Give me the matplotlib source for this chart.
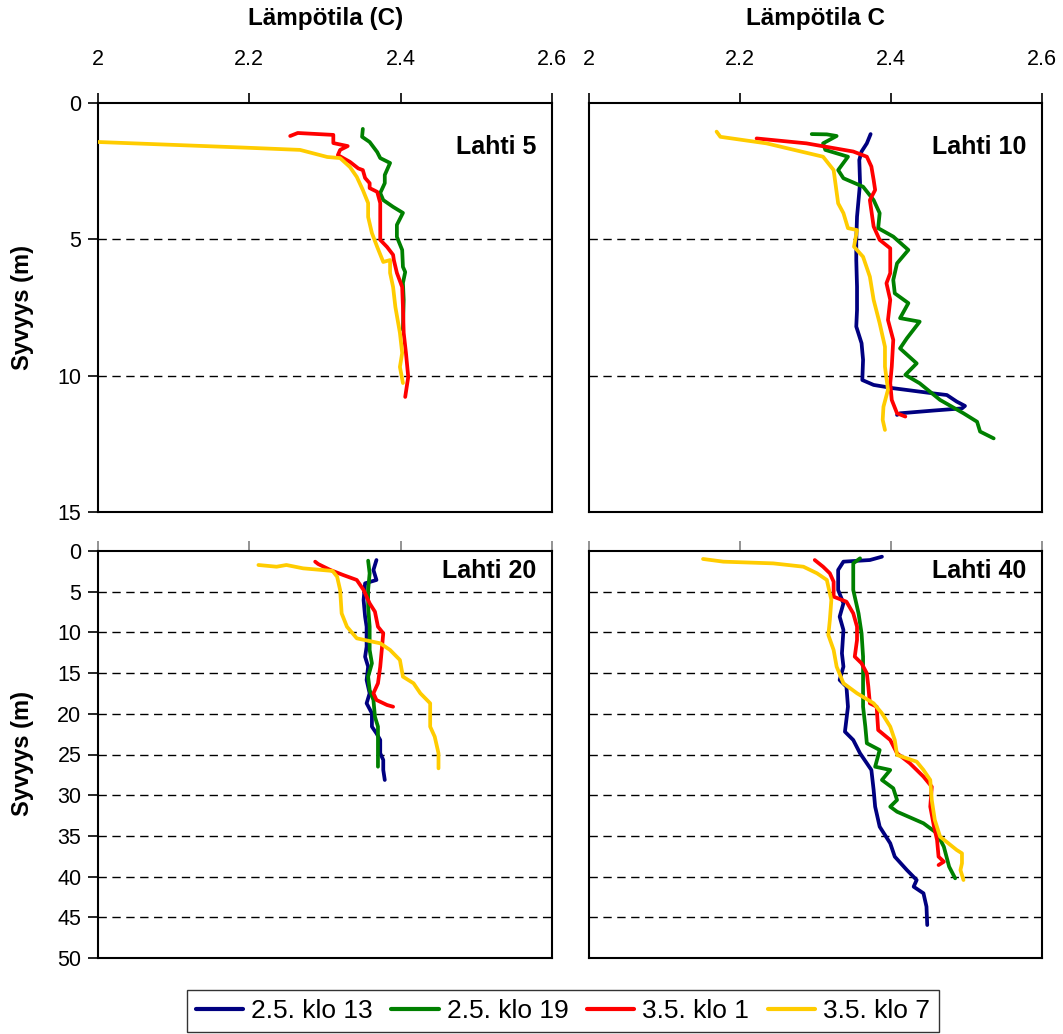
import matplotlib
matplotlib.use('Agg')
import matplotlib.pyplot as plt

# ---- data: temperature (C) vs depth (m) for each bay and measurement time ----
series_names = ['2.5. klo 13', '2.5. klo 19', '3.5. klo 1', '3.5. klo 7']
series_colors = ['#000080', '#008000', '#FF0000', '#FFCC00']

# Lahti 5 (no 2.5. klo 13 profile)
l5_green_t = [2.350, 2.349, 2.359, 2.369, 2.373, 2.386, 2.379, 2.379, 2.373, 2.377, 2.390, 2.403, 2.395,
              2.395, 2.402, 2.403, 2.406, 2.403, 2.404, 2.403]
l5_green_d = [0.95, 1.24, 1.43, 1.80, 2.02, 2.20, 2.64, 2.94, 3.30, 3.56, 3.81, 4.03, 4.47,
              4.91, 5.39, 6.01, 6.20, 6.60, 7.22, 8.32]
l5_red_t = [2.254, 2.264, 2.311, 2.311, 2.330, 2.320, 2.317, 2.333, 2.344, 2.350, 2.353, 2.359, 2.359, 2.369,
            2.373, 2.373, 2.382, 2.390, 2.391, 2.395, 2.402, 2.403, 2.404, 2.407, 2.410, 2.408, 2.406]
l5_red_d = [1.21, 1.10, 1.17, 1.47, 1.58, 1.72, 1.91, 2.16, 2.40, 2.46, 2.75, 2.94, 3.12, 3.26,
            3.67, 5.02, 5.28, 5.57, 5.76, 6.23, 6.75, 7.48, 8.43, 9.17, 10.05, 10.41, 10.78]
l5_yellow_t = [2.000, 2.188, 2.267, 2.303, 2.320, 2.333, 2.342, 2.350, 2.357, 2.357, 2.362, 2.369, 2.377,
               2.386, 2.386, 2.390, 2.393, 2.399, 2.402, 2.399, 2.403]
l5_yellow_d = [1.43, 1.63, 1.72, 1.98, 2.02, 2.35, 2.71, 3.19, 3.67, 4.18, 4.77, 5.28, 5.83,
               5.76, 6.23, 6.75, 7.48, 8.43, 9.17, 9.68, 10.27]

# Lahti 10
l10_blue_t = [2.373, 2.368, 2.361, 2.358, 2.359, 2.357, 2.355, 2.354, 2.354, 2.355, 2.355, 2.354, 2.361,
              2.363, 2.362, 2.377, 2.403, 2.456, 2.474, 2.487, 2.498, 2.494, 2.456, 2.412, 2.408]
l10_blue_d = [1.14, 1.48, 1.78, 2.09, 2.94, 3.56, 4.17, 5.02, 5.76, 6.74, 7.59, 8.20, 8.81,
              9.42, 10.16, 10.34, 10.46, 10.65, 10.71, 10.95, 11.11, 11.20, 11.28, 11.38, 11.44]
l10_green_t = [2.295, 2.315, 2.328, 2.310, 2.313, 2.343, 2.330, 2.337, 2.363, 2.377, 2.385, 2.383, 2.403,
               2.423, 2.408, 2.403, 2.405, 2.423, 2.412, 2.438, 2.421, 2.412, 2.434, 2.419, 2.438, 2.465,
               2.496, 2.514, 2.518, 2.536]
l10_green_d = [1.14, 1.15, 1.21, 1.48, 1.72, 1.97, 2.46, 2.76, 3.07, 3.56, 4.04, 4.59, 4.90,
               5.39, 5.88, 6.49, 6.98, 7.34, 7.89, 8.02, 8.63, 9.00, 9.55, 9.97, 10.28, 10.89,
               11.38, 11.69, 12.05, 12.30]
l10_red_t = [2.222, 2.288, 2.350, 2.368, 2.374, 2.377, 2.379, 2.372, 2.377, 2.385, 2.399, 2.399, 2.394,
             2.399, 2.396, 2.403, 2.401, 2.399, 2.401, 2.408, 2.419]
l10_red_d = [1.30, 1.48, 1.78, 1.97, 2.33, 2.82, 3.19, 3.56, 4.53, 5.02, 5.33, 6.24, 6.61,
             7.22, 7.96, 8.69, 9.67, 10.28, 10.89, 11.38, 11.50]
l10_yellow_t = [2.169, 2.174, 2.235, 2.310, 2.324, 2.327, 2.330, 2.337, 2.343, 2.355, 2.351, 2.363, 2.372,
                2.377, 2.385, 2.392, 2.392, 2.396, 2.390, 2.389, 2.392]
l10_yellow_d = [1.05, 1.24, 1.48, 1.97, 2.46, 3.07, 3.68, 4.04, 4.59, 4.66, 5.27, 5.64, 6.37,
                7.22, 8.08, 8.94, 9.67, 10.52, 11.14, 11.62, 11.99]

# Lahti 20
l20_blue_t = [2.368, 2.364, 2.368, 2.353, 2.351, 2.353, 2.355, 2.355, 2.353, 2.357, 2.355, 2.359, 2.355,
              2.362, 2.362, 2.368, 2.373, 2.373, 2.377, 2.377, 2.379]
l20_blue_d = [1.11, 2.33, 3.56, 3.97, 6.02, 8.07, 9.30, 11.76, 12.99, 14.21, 15.85, 17.48, 18.71,
              19.94, 21.58, 22.40, 23.22, 24.85, 25.67, 26.90, 28.13]
l20_green_t = [2.357, 2.359, 2.357, 2.357, 2.359, 2.359, 2.362, 2.357, 2.359, 2.364, 2.366, 2.370, 2.370,
               2.370]
l20_green_d = [1.19, 2.74, 4.79, 6.84, 9.30, 12.16, 13.80, 15.44, 17.08, 18.30, 20.36, 21.58, 24.04,
               26.50]
l20_red_t = [2.287, 2.291, 2.307, 2.324, 2.342, 2.351, 2.359, 2.366, 2.370, 2.377, 2.375, 2.373, 2.370,
             2.364, 2.368, 2.382, 2.390]
l20_red_d = [1.31, 1.60, 2.33, 2.95, 3.56, 4.79, 6.43, 7.46, 9.30, 10.11, 12.16, 14.21, 16.25,
             17.48, 18.30, 18.92, 19.13]
l20_yellow_t = [2.212, 2.236, 2.249, 2.271, 2.310, 2.316, 2.320, 2.322, 2.329, 2.342, 2.373, 2.386, 2.399,
                2.403, 2.417, 2.426, 2.439, 2.439, 2.445, 2.450, 2.450]
l20_yellow_d = [1.72, 1.93, 1.72, 2.13, 2.45, 3.16, 4.79, 7.66, 9.30, 10.73, 11.34, 12.16, 13.39,
                15.44, 16.25, 17.48, 18.71, 21.58, 22.81, 24.85, 26.70]

# Lahti 40
l40_blue_t = [2.388, 2.372, 2.337, 2.330, 2.330, 2.337, 2.332, 2.337, 2.335, 2.337, 2.332, 2.341, 2.343,
              2.339, 2.350, 2.359, 2.374, 2.377, 2.379, 2.385, 2.399, 2.405, 2.421, 2.434, 2.430, 2.443,
              2.447, 2.448]
l40_blue_d = [0.70, 1.11, 1.31, 2.33, 4.79, 6.43, 8.07, 9.71, 12.57, 14.21, 15.85, 16.67, 19.13,
              22.20, 23.22, 24.85, 26.90, 29.36, 31.41, 33.87, 35.91, 37.55, 39.19, 40.42, 41.24, 42.05,
              43.69, 45.95]
l40_green_t = [2.359, 2.350, 2.350, 2.357, 2.361, 2.363, 2.363, 2.363, 2.366, 2.368, 2.385, 2.379, 2.399,
               2.388, 2.403, 2.408, 2.399, 2.408, 2.443, 2.461, 2.470, 2.477, 2.485]
l40_green_d = [0.90, 1.52, 4.79, 7.66, 10.11, 12.98, 16.25, 19.13, 21.58, 23.62, 24.45, 26.50, 26.90,
               28.13, 29.15, 30.59, 31.41, 32.03, 33.45, 34.68, 36.33, 38.78, 40.21]
l40_red_t = [2.299, 2.310, 2.319, 2.324, 2.324, 2.341, 2.350, 2.355, 2.355, 2.352, 2.361, 2.368, 2.370,
             2.372, 2.381, 2.383, 2.399, 2.408, 2.425, 2.443, 2.454, 2.452, 2.457, 2.461, 2.463, 2.470,
             2.463]
l40_red_d = [1.11, 1.93, 2.74, 3.77, 5.61, 6.23, 7.66, 9.30, 10.93, 12.98, 13.80, 15.03, 16.67,
             18.71, 19.13, 21.99, 23.22, 24.85, 26.08, 27.72, 28.96, 31.41, 33.87, 35.50, 37.55, 38.17,
             38.58]
l40_yellow_t = [2.151, 2.178, 2.244, 2.284, 2.302, 2.315, 2.321, 2.319, 2.317, 2.324, 2.328, 2.337, 2.355,
                2.377, 2.388, 2.399, 2.405, 2.408, 2.434, 2.443, 2.452, 2.454, 2.458, 2.465, 2.487, 2.494,
                2.494, 2.492, 2.496]
l40_yellow_d = [0.98, 1.31, 1.52, 1.93, 2.74, 3.56, 6.02, 8.48, 10.32, 12.16, 14.21, 16.25, 17.48,
                18.71, 19.94, 21.58, 23.22, 25.06, 25.88, 26.90, 28.13, 30.59, 33.04, 35.09, 36.73, 37.14,
                38.37, 39.19, 40.42]

panel_titles = ['Lahti 5', 'Lahti 10', 'Lahti 20', 'Lahti 40']
x_ticks = [2.0, 2.2, 2.4, 2.6]
x_ticklabels = ['2', '2.2', '2.4', '2.6']
top_y_ticks = [0, 5, 10, 15]
bottom_y_ticks = [0, 5, 10, 15, 20, 25, 30, 35, 40, 45, 50]

panels = [
    [(None, None), (l5_green_t, l5_green_d), (l5_red_t, l5_red_d), (l5_yellow_t, l5_yellow_d)],
    [(l10_blue_t, l10_blue_d), (l10_green_t, l10_green_d), (l10_red_t, l10_red_d), (l10_yellow_t, l10_yellow_d)],
    [(l20_blue_t, l20_blue_d), (l20_green_t, l20_green_d), (l20_red_t, l20_red_d), (l20_yellow_t, l20_yellow_d)],
    [(l40_blue_t, l40_blue_d), (l40_green_t, l40_green_d), (l40_red_t, l40_red_d), (l40_yellow_t, l40_yellow_d)],
]

plt.rcParams['font.family'] = ['Liberation Sans', 'DejaVu Sans']

W, H = 1063, 1034
fig = plt.figure(figsize=(W / 100, H / 100), dpi=100)

# axes boxes in pixels: (left, top, right, bottom)
boxes = [(98, 103, 552, 512), (589, 103, 1042, 512),
         (98, 551, 552, 958), (589, 551, 1042, 958)]

handles = []
for i, (box, series) in enumerate(zip(boxes, panels)):
    l, t, r, b = box
    ax = fig.add_axes([l / W, 1 - b / H, (r - l) / W, (b - t) / H])
    top_row = i < 2
    yt = top_y_ticks if top_row else bottom_y_ticks

    # dashed grid lines at interior depth ticks
    for y in yt[1:-1]:
        ax.axhline(y, color='black', lw=1.0, ls=(0, (6, 4)), zorder=1)

    for (temps, depths), name, col in zip(series, series_names, series_colors):
        if temps is None:
            continue
        ln, = ax.plot(temps, depths, color=col, lw=2.7, label=name,
                      solid_capstyle='round', solid_joinstyle='round', zorder=3)
        if i == 1:
            handles.append(ln)

    ax.set_xlim(2.0, 2.6)
    ax.set_ylim(yt[-1], 0)
    ax.xaxis.tick_top()
    ax.set_xticks(x_ticks)
    ax.set_yticks(yt)

    if top_row:
        ax.set_xticklabels(x_ticklabels)
        ax.tick_params(axis='x', direction='out', length=7, width=1.2, pad=17,
                       labelsize=15.5, colors='black')
    else:
        ax.set_xticklabels([])
        ax.tick_params(axis='x', direction='out', length=7, width=1.2,
                       color='#808080')

    if i % 2 == 0:
        ax.set_yticklabels([str(v) for v in yt])
        ax.tick_params(axis='y', direction='out', length=7, width=1.2, pad=5,
                       labelsize=15.5)
    else:
        ax.set_yticks([])

    for s in ax.spines.values():
        s.set_linewidth(1.5)
        s.set_color('black')

    ax.text(0.965, 0.893 if top_row else 0.95, panel_titles[i], transform=ax.transAxes,
            ha='right', va='center', fontsize=18, fontweight='bold')

# column titles
fig.text(326 / W, 1 - 19 / H, 'Lämpötila (C)', ha='center', va='center',
         fontsize=17.5, fontweight='bold')
fig.text(815 / W, 1 - 19 / H, 'Lämpötila C', ha='center', va='center',
         fontsize=17.5, fontweight='bold')

# depth labels
fig.text(22 / W, 1 - 307 / H, 'Syvyys (m)', ha='center', va='center', rotation=90,
         fontsize=17, fontweight='bold')
fig.text(22 / W, 1 - 754 / H, 'Syvyys (m)', ha='center', va='center', rotation=90,
         fontsize=17, fontweight='bold')

leg = fig.legend(handles=handles, labels=series_names, loc='upper center',
                 bbox_to_anchor=(563 / W, 1 - 990 / H), ncol=4, fontsize=19,
                 frameon=True, fancybox=False, edgecolor='black',
                 handlelength=1.8, handletextpad=0.3, columnspacing=0.7,
                 borderpad=0.35, borderaxespad=0)
leg.get_frame().set_linewidth(1.0)
for lh in leg.get_lines():
    lh.set_linewidth(3)

fig.savefig('out.png', dpi=100)
